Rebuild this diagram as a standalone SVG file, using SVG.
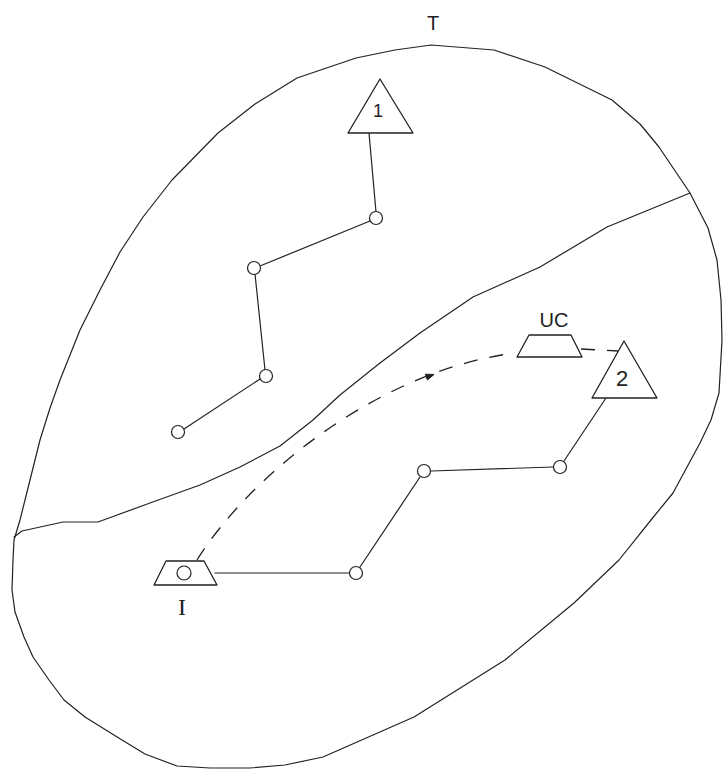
<svg xmlns="http://www.w3.org/2000/svg" width="723" height="772" viewBox="0 0 723 772">
<style>
.ln{fill:none;stroke:#222;stroke-width:1.2;stroke-linejoin:round;stroke-linecap:round}
.dash{fill:none;stroke:#222;stroke-width:1.3;stroke-dasharray:14 12}
.shape{fill:#fff;stroke:#222;stroke-width:1.3;stroke-linejoin:round}
.node{fill:#fff;stroke:#222;stroke-width:1.2}
.lbl{font-family:"Liberation Sans",Arial,sans-serif;fill:#222;text-anchor:middle}
</style>
<rect width="723" height="772" fill="#fff"/>
<g id="region">
<path class="ln" d="M431,45 L494,50 L545,67 L612,100 L640,124 L659,147 L690,193 L708,228 L717,260 L721,300 L722,340 L719,393 L711,420 L700,443 L673,493 L651,520 L619,560 L574,603 L505,660 L414,717 L323,757 L285,765 L250,768 L210,768 L177,766 L145,754 L122,740 L85,717 L64,700 L49,680 L33,657 L24,637 L15,612 L12,590 L13,560 L14,540 L20,520 L30,480 L40,440 L50,408 L60,380 L80,330 L100,290 L120,252 L143,217 L172,180 L218,133 L255,104 L297,78 L356,58 L395,50 Z"/>
<path class="ln" d="M14,537 L22,531 L63,522 L98,522 L150,503 L200,485 L240,467 L280,446 L313,420 L340,395 L380,363 L420,333 L473,297 L540,267 L607,227 L690,193"/>
<text class="lbl" x="433" y="30" font-size="20">T</text>
</g>
<g id="connectors">
<path class="ln" d="M369,133 L376,212"/>
<path class="ln" d="M370,221 L260,266"/>
<path class="ln" d="M255,274 L265,370"/>
<path class="ln" d="M260,379 L184,429"/>
<path class="ln" d="M606,398 L564,461"/>
<path class="ln" d="M553,467 L431,471"/>
<path class="ln" d="M420,477 L360,567"/>
<path class="ln" d="M349,573 L215,573"/>
<path class="dash" d="M197,560 C250,475 380,370 515,353"/>
<path class="dash" d="M581,349 L618,351" stroke-dasharray="8 12"/>
<polygon points="434,374.5 425.4,374.2 427.4,380" fill="#222" stroke="#222" stroke-width="1"/>
</g>
<g id="triangle1">
<polygon class="shape" points="380,79 413,133 348,133"/>
<text class="lbl" x="378" y="117" font-size="18">1</text>
</g>
<g id="node1"><circle class="node" cx="376" cy="218" r="6.5"/></g>
<g id="node2"><circle class="node" cx="254" cy="268" r="6.5"/></g>
<g id="node3"><circle class="node" cx="266" cy="376" r="6.5"/></g>
<g id="node4"><circle class="node" cx="178" cy="432" r="6.5"/></g>
<g id="trapezoidUC">
<polygon class="shape" points="529,335 571,335 582,357 517,357"/>
<text class="lbl" x="554" y="327" font-size="20">UC</text>
</g>
<g id="triangle2">
<polygon class="shape" points="624,341 657,398 592,398"/>
<text class="lbl" x="622" y="386" font-size="22">2</text>
</g>
<g id="node5"><circle class="node" cx="560" cy="467" r="6.5"/></g>
<g id="node6"><circle class="node" cx="424" cy="471" r="6.5"/></g>
<g id="node7"><circle class="node" cx="356" cy="573" r="6.5"/></g>
<g id="trapezoidI">
<polygon class="shape" points="166,561 204,561 217,585 154,585"/>
<circle class="node" cx="184" cy="573" r="7"/>
<text x="182" y="615" font-size="24" font-family="'Liberation Serif','Times New Roman',serif" fill="#222" text-anchor="middle">I</text>
</g>
</svg>
